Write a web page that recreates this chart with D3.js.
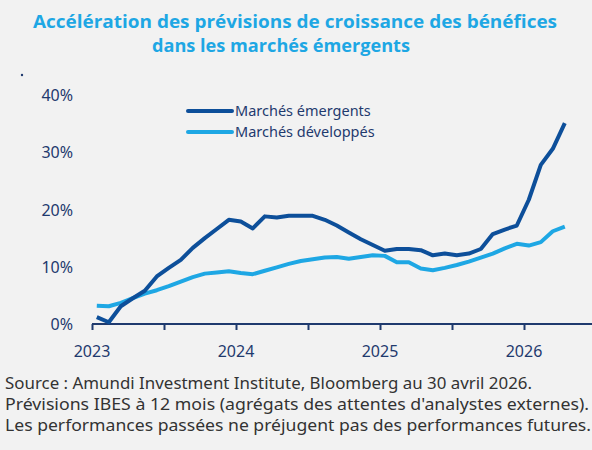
<!DOCTYPE html>
<html><head><meta charset="utf-8">
<script src="https://cdn.jsdelivr.net/npm/d3@7"></script>
<style>body{margin:0;background:#f2f2f2}svg{display:block}</style>
</head><body>
<script>
const emValues = [1.2,0.3,3.1,4.5,5.8,8.3,9.8,11.2,13.3,15,16.6,18.2,17.9,16.7,18.8,18.6,18.9,18.9,18.9,18.2,17.2,16,14.8,13.8,12.8,13.1,13.1,12.9,12,12.3,12,12.3,13.1,15.7,16.5,17.2,21.7,27.8,30.6,35.1];
const dmValues = [3.2,3.1,3.7,4.5,5.3,5.9,6.6,7.4,8.2,8.8,9,9.2,8.9,8.7,9.3,9.9,10.5,11,11.3,11.6,11.7,11.4,11.7,12,11.9,10.8,10.8,9.7,9.4,9.8,10.3,10.9,11.6,12.3,13.2,14,13.7,14.3,16.2,17];
const yTicks = [0,10,20,30,40];
const xYears = [2023,2024,2025,2026];
const seriesNames = ["Marchés émergents","Marchés développés"];
const colors = ["#0d4f9a","#1ea7e4"];

const W = 592, H = 450;
const svg = d3.select("body").append("svg").attr("width", W).attr("height", H);
const x = d3.scaleLinear().domain([2023, 2026 + 4/12]).range([92, 92 + 144*(3+4/12)]);
const y = d3.scaleLinear().domain([0, 40]).range([324, 95]);
const t = i => 2023 + (i + 0.4) / 12;

const titles = [["Accélération des prévisions de croissance des bénéfices", 33, 524, 28],
                ["dans les marchés émergents", 152, 258, 52]];
titles.forEach(([s, x0, len, yy]) => {
  svg.append("text").attr("x", x0).attr("y", yy)
    .attr("font-family","Open Sans").attr("font-weight",700).attr("font-size",18)
    .attr("textLength", len).attr("lengthAdjust","spacingAndGlyphs")
    .attr("fill","#1ea7e4").text(s);
});
svg.append("circle").attr("cx",22).attr("cy",75).attr("r",1.2).attr("fill","#1f3a6e");

svg.selectAll(".yl").data(yTicks).join("text")
  .attr("x", 73).attr("y", d => y(d) + 6).attr("text-anchor","end")
  .attr("font-family","Noto Sans").attr("font-size",16).attr("fill","#1f3a6e")
  .text(d => d + "%");

const xAxis = d3.axisBottom(x).tickValues(d3.range(2023, 2026.6, 0.5)).tickSize(6).tickFormat("");
const gx = svg.append("g").attr("transform","translate(0,324)").call(xAxis);
gx.select(".domain").attr("stroke","#1f3a6e").attr("stroke-width",2).attr("d", `M${x(2023)},0H${x(2026)+71}`);
gx.selectAll(".tick line").attr("stroke","#1f3a6e").attr("stroke-width",2);
svg.selectAll(".xl").data(xYears).join("text")
  .attr("x", d => x(d)).attr("y", 357).attr("text-anchor","middle")
  .attr("font-family","Noto Sans").attr("font-size",16).attr("fill","#1f3a6e").text(d => d);

const line = d3.line().x((d,i) => x(t(i))).y(d => y(d));
[dmValues, emValues].forEach((vals, k) => {
  svg.append("path").datum(vals).attr("d", line).attr("fill","none")
    .attr("stroke", k ? colors[0] : colors[1]).attr("stroke-width", 4).attr("stroke-linejoin","round");
});

seriesNames.forEach((n, i) => {
  const ly = 111 + i * 21;
  svg.append("line").attr("x1",188).attr("x2",232).attr("y1",ly).attr("y2",ly)
    .attr("stroke",colors[i]).attr("stroke-width",4).attr("stroke-linecap","round");
  svg.append("text").attr("x",235).attr("y",ly+5).attr("font-family","Noto Sans").attr("font-size",14.5)
    .attr("fill","#1f3a6e").text(n);
});

const foot = [["Source : Amundi Investment Institute, Bloomberg au 30 avril 2026.", 527],
  ["Prévisions IBES à 12 mois (agrégats des attentes d'analystes externes).", 584],
  ["Les performances passées ne préjugent pas des performances futures.", 586]];
svg.selectAll(".ft").data(foot).join("text").attr("x",5).attr("y",(d,i)=>389+i*21)
  .attr("font-family","Noto Sans").attr("font-size",17)
  .attr("textLength", d => d[1]).attr("lengthAdjust","spacingAndGlyphs")
  .attr("fill","#333").text(d=>d[0]);
</script>
</body></html>
